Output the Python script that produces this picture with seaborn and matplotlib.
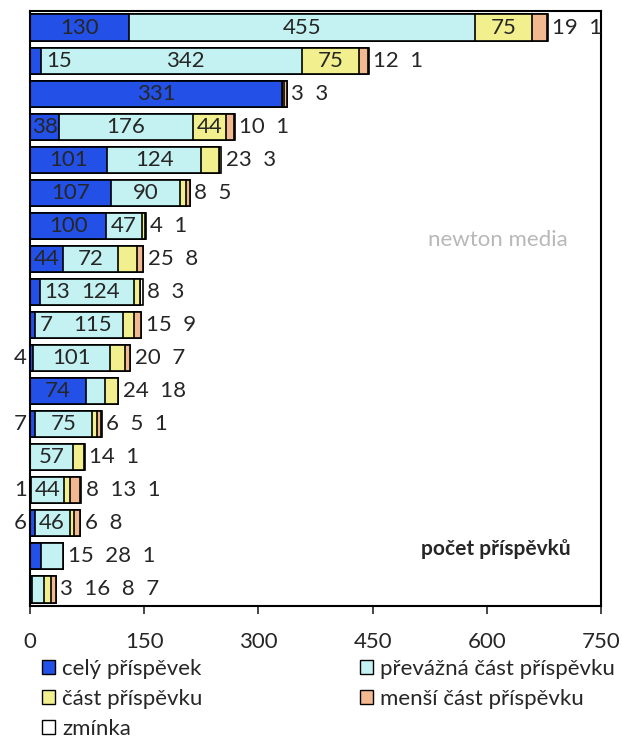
import numpy as np
import pandas as pd
import seaborn as sns
import matplotlib.pyplot as plt
from matplotlib.patches import Patch

# data (rows top to bottom)
rows = [f"r{i:02d}" for i in range(1, 19)]
cely = [130, 15, 331, 38, 101, 107, 100, 44, 13, 7, 4, 74, 7, 0, 1, 6, 15, 3]
prevazna = [455, 342, 0, 176, 124, 90, 47, 72, 124, 115, 101, 24, 75, 57, 44, 46, 28, 16]
cast = [75, 75, 3, 44, 23, 8, 4, 25, 8, 15, 20, 18, 6, 14, 8, 6, 0, 8]
mensi = [19, 12, 3, 10, 0, 5, 0, 8, 0, 9, 7, 0, 5, 0, 13, 8, 0, 7]
zminka = [1, 1, 0, 1, 3, 0, 1, 0, 3, 0, 0, 0, 1, 1, 1, 0, 1, 0]

series = ["celý příspěvek", "převážná část příspěvku", "část příspěvku",
          "menší část příspěvku", "zmínka"]
colors = ["#2350e6", "#c4f2f2", "#f2f08e", "#f2b890", "#ffffff"]

# label placement per row for the small blue values: 'in', 'after', 'left', 'out'
blue_pos = ["in", "after", "in", "in", "in", "in", "in", "in", "after", "after",
            "left", "in", "left", "in", "left", "left", "out", "out"]

sns.set_style("white")
plt.rcParams['font.family'] = ['Lato', 'DejaVu Sans']
plt.rcParams['figure.dpi'] = 100

vals = np.array([cely, prevazna, cast, mensi, zminka])
cum = vals.cumsum(axis=0)

fig = plt.figure(figsize=(6.22, 7.42))
ax = fig.add_axes([30 / 622, 1 - 606 / 742, 571 / 622, 595 / 742])

# stacked bars: draw cumulative totals from the largest down
for i in range(len(series) - 1, -1, -1):
    df = pd.DataFrame({"row": rows, "value": cum[i]})
    sns.barplot(data=df, x="value", y="row", orient="h", color=colors[i],
                edgecolor="black", linewidth=1.2, width=0.79, saturation=1,
                ax=ax)

fs = 16
for r in range(len(rows)):
    total = cum[-1][r]
    outside = []
    for i in range(len(series)):
        v = vals[i][r]
        if v == 0:
            continue
        start = cum[i][r] - v
        if i == 0 and blue_pos[r] == "after":
            ax.text(cum[0][r] + 6, r, str(v), ha="left", va="center", fontsize=fs)
            continue
        if i == 0 and blue_pos[r] == "left":
            ax.text(-4, r, str(v), ha="right", va="center", fontsize=fs)
            continue
        if i == 0 and blue_pos[r] == "out":
            outside.append(str(v))
            continue
        if v >= 40 or (i == 0 and blue_pos[r] == "in"):
            cx = start + v / 2
            if i == 1 and blue_pos[r] == "after":
                cx = start + 35 + (v - 35) / 2
            ax.text(cx, r, str(v), ha="center", va="center", fontsize=fs)
        else:
            outside.append(str(v))
    if outside:
        ax.text(total + 6, r, "  ".join(outside), ha="left", va="center",
                fontsize=fs)

ax.set_xlim(0, 750)
ax.set_ylim(17.5, -0.5)
ax.set_xticks([0, 150, 300, 450, 600, 750])
ax.set_yticks([])
ax.set_xlabel("")
ax.set_ylabel("")
ax.tick_params(axis="x", direction="out", length=6, width=1.2, pad=13,
               labelsize=fs, bottom=True)
for s in ax.spines.values():
    s.set_linewidth(1.5)
    s.set_color("black")

ax.text(0.815, 0.095, "počet příspěvků", transform=ax.transAxes, ha="center",
        va="center", fontsize=15, fontweight="bold")
ax.text(0.82, 0.615, "newton media", transform=ax.transAxes, ha="center",
        va="center", fontsize=16, color="#b8b8b8")

handles = [Patch(facecolor=c, edgecolor="black", label=l)
           for c, l in zip(colors, series)]
order = [0, 2, 4, 1, 3]
fig.legend([handles[k] for k in order], [series[k] for k in order],
           loc="upper left", bbox_to_anchor=(42 / 622, 1 - 659 / 742),
           ncol=2, frameon=False, fontsize=fs, handlelength=0.6,
           handleheight=0.6, handletextpad=0.3, columnspacing=7.1,
           labelspacing=0.45, borderaxespad=0, borderpad=0)

plt.savefig("out.png", dpi=100)
